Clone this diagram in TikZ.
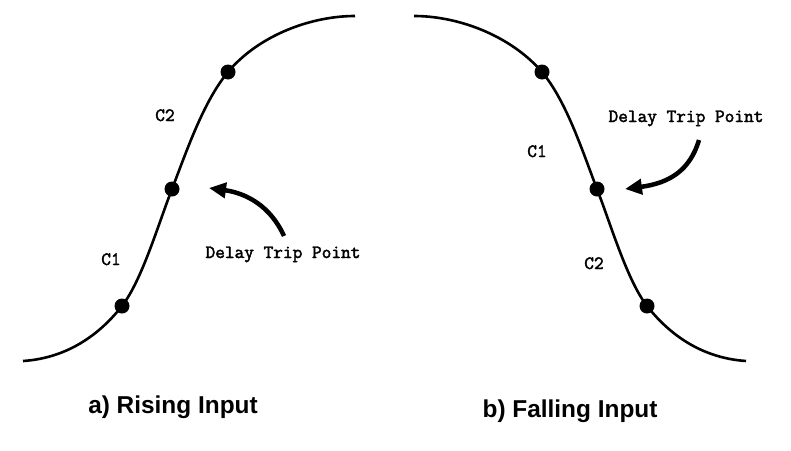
\documentclass[tikz,border=0pt]{standalone}
\usepackage{fontspec}
\newfontfamily\capfont{Liberation Sans}
\newfontfamily\lblfont[FakeBold=2.2]{Latin Modern Mono}
\usetikzlibrary{arrows.meta}
\tikzset{
  curve/.style={line width=2.6pt},
  dot/.style={circle,fill=black,minimum size=15pt,inner sep=0pt},
  lbl/.style={font=\fontsize{18.8}{20}\selectfont\lblfont,anchor=base,inner sep=0pt},
  captiontext/.style={font=\fontsize{24.4}{26}\selectfont\capfont\bfseries,anchor=base,inner sep=0pt},
  pointer/.style={line width=4.5pt,-{Triangle[length=17pt,width=15pt]}}
}
\begin{document}
\begin{tikzpicture}[x=1pt,y=-1pt]
\useasboundingbox (0,0) rectangle (791,450);
% left (rising)
\coordinate (ls) at (23,361);
\coordinate (le) at (355,16);
\node[dot] (l1) at (122,306) {};
\node[dot] (l2) at (172,189) {};
\node[dot] (l3) at (228,72) {};
\draw[curve] (ls) .. controls (68,358) and (100,334) .. (l1.center)
  .. controls (142,280) and (158,225) .. (l2.center)
  .. controls (186,153) and (203,102) .. (l3.center)
  .. controls (258,36) and (310,16) .. (le);
\node[lbl] (lc2) at (165,121) {C2};
\node[lbl] (lc1) at (111,265) {C1};
\node[lbl] (ldtp) at (283,258) {Delay Trip Point};
\coordinate (lat) at (284,236);
\coordinate (lah) at (209,188);
\draw[pointer] (lat) .. controls (270,205) and (245,193) .. (lah);
\node[captiontext] (lcap) at (173,413) {a) Rising Input};
% right (falling)
\coordinate (rs) at (414,16);
\coordinate (re) at (746,361);
\node[dot] (r1) at (542,72) {};
\node[dot] (r2) at (597,189) {};
\node[dot] (r3) at (647,306) {};
\draw[curve] (rs) .. controls (459,16) and (511,36) .. (r1.center)
  .. controls (567,102) and (583,153) .. (r2.center)
  .. controls (611,225) and (627,280) .. (r3.center)
  .. controls (669,334) and (701,358) .. (re);
\node[lbl] (rc1) at (537,157) {C1};
\node[lbl] (rc2) at (594,269) {C2};
\node[lbl] (rdtp) at (686,122) {Delay Trip Point};
\coordinate (rat) at (699,140);
\coordinate (rah) at (625,189);
\draw[pointer] (rat) .. controls (690,170) and (670,183) .. (rah);
\node[captiontext] (rcap) at (570,417) {b) Falling Input};
\end{tikzpicture}
\end{document}
